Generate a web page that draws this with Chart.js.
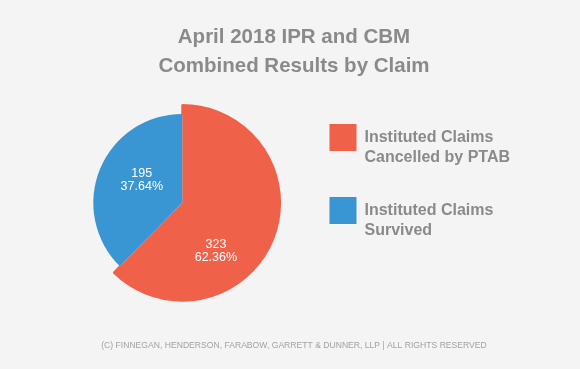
<!DOCTYPE html>
<html>
<head>
<meta charset="utf-8">
<script src="https://cdn.jsdelivr.net/npm/chart.js@4.4.1/dist/chart.umd.min.js"></script>
<style>
  html, body { margin: 0; padding: 0; background: #f4f4f4; }
  canvas { display: block; }
</style>
</head>
<body>
<canvas id="chart-1" width="580" height="369"></canvas>
<script>
const labels = [
  ['Instituted Claims', 'Cancelled by PTAB'],
  ['Instituted Claims', 'Survived']
];
const claims = [323, 195];
const colours = ['#f0614a', '#3a95d3'];
const titleLines = ['April 2018 IPR and CBM', 'Combined Results by Claim'];
const footer = '(C) FINNEGAN, HENDERSON, FARABOW, GARRETT & DUNNER, LLP | ALL RIGHTS RESERVED';

// where the value text sits in each slice: share of the sweep, share of the radius
const labelSpots = [[0.646, 0.66], [0.55, 0.52]];

const grey = '#8a8a8a';
const fontName = "'Liberation Sans', Arial, sans-serif";
const total = claims.reduce((a, b) => a + b, 0);

const sliceLabels = {
  id: 'sliceLabels',
  afterDatasetsDraw(chart) {
    const ctx = chart.ctx;
    const arcs = chart.getDatasetMeta(1).data;
    ctx.save();
    ctx.fillStyle = '#fff';
    ctx.font = '12.5px ' + fontName;
    ctx.textAlign = 'center';
    ctx.textBaseline = 'middle';
    arcs.forEach((arc, i) => {
      const p = arc.getProps(['x', 'y', 'startAngle', 'endAngle', 'outerRadius']);
      const a = p.startAngle + (p.endAngle - p.startAngle) * labelSpots[i][0];
      const r = p.outerRadius * labelSpots[i][1];
      const cx = p.x + Math.cos(a) * r;
      const cy = p.y + Math.sin(a) * r;
      ctx.fillText(String(claims[i]), cx, cy - 6.5);
      ctx.fillText((claims[i] / total * 100).toFixed(2) + '%', cx, cy + 6.5);
    });
    ctx.restore();
  }
};

const config = {
  type: 'pie',
  data: {
    labels: labels,
    datasets: [
      {
        // thin outer ring, so the cancelled slice stands out past the other one
        data: claims,
        backgroundColor: [colours[0], 'rgba(0,0,0,0)'],
        borderColor: [colours[0], 'rgba(0,0,0,0)'],
        borderWidth: [2, 0],
        weight: 9
      },
      {
        data: claims,
        backgroundColor: colours,
        borderWidth: 0,
        weight: 90
      }
    ]
  },
  options: {
    responsive: false,
    animation: false,
    events: [],
    layout: { padding: { left: 68, right: 60, top: 0, bottom: 8 } },
    plugins: {
      tooltip: { enabled: false },
      title: {
        display: true,
        text: titleLines,
        color: grey,
        font: { family: fontName, size: 20.5, weight: 'bold', lineHeight: 29 / 20.5 },
        padding: { top: 22.5, bottom: 23.5 }
      },
      subtitle: {
        display: true,
        position: 'bottom',
        text: footer,
        color: '#a2a2a2',
        font: { family: fontName, size: 8.6, weight: 'normal', lineHeight: 1.2 },
        padding: { top: 38.6, bottom: 10.4 }
      },
      legend: {
        position: 'right',
        align: 'center',
        labels: {
          boxWidth: 27,
          boxHeight: 27,
          padding: 33,
          color: grey,
          font: { family: fontName, size: 16, weight: 'bold', lineHeight: 20 / 16 },
          generateLabels: () => labels.map((text, i) => ({
            text: text,
            fillStyle: colours[i],
            strokeStyle: colours[i],
            lineWidth: 0,
            fontColor: grey,
            hidden: false,
            index: i
          }))
        }
      }
    }
  },
  plugins: [sliceLabels]
};

const chart1 = new Chart(document.getElementById('chart-1'), config);
</script>
</body>
</html>
